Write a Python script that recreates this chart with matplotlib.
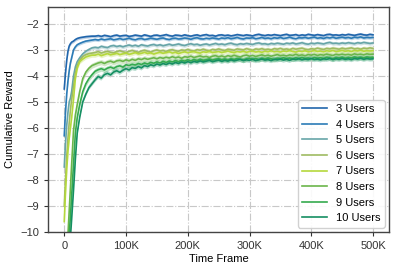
import matplotlib
matplotlib.use("Agg")
import matplotlib.pyplot as plt
from matplotlib.ticker import FuncFormatter

plt.rcParams["font.family"] = ["Liberation Sans", "DejaVu Sans"]

# time frame in thousands: dense at the start, then every 5K
steps = [0, 2, 4, 6, 8, 10, 12, 15, 18, 21, 25, 30, 35, 40, 45] + list(range(50, 501, 5))

labels = ["3 Users", "4 Users", "5 Users", "6 Users",
          "7 Users", "8 Users", "9 Users", "10 Users"]
colors = ["#2166ac", "#2b7bb6", "#67a5a8", "#9fbb62",
          "#b5d83c", "#6bb54a", "#35aa4e", "#158f62"]

users3 = [-4.5, -3.9, -3.4, -3.05, -2.85, -2.76, -2.7, -2.66, -2.6, -2.56, -2.53, -2.51, -2.49, -2.48, -2.47,
          -2.47, -2.45, -2.48, -2.44, -2.46, -2.49, -2.45, -2.43, -2.47, -2.45,
          -2.44, -2.48, -2.46, -2.43, -2.45, -2.47, -2.42, -2.45, -2.48, -2.44,
          -2.43, -2.46, -2.44, -2.41, -2.45, -2.47, -2.43, -2.44, -2.46, -2.42,
          -2.45, -2.47, -2.44, -2.42, -2.46, -2.43, -2.41, -2.45, -2.44, -2.47,
          -2.43, -2.42, -2.45, -2.43, -2.46, -2.44, -2.41, -2.43, -2.45, -2.42,
          -2.44, -2.46, -2.42, -2.40, -2.43, -2.45, -2.42, -2.44, -2.41, -2.43,
          -2.45, -2.42, -2.40, -2.44, -2.43, -2.41, -2.45, -2.42, -2.44, -2.40,
          -2.42, -2.44, -2.41, -2.43, -2.45, -2.41, -2.40, -2.43, -2.42, -2.44,
          -2.41, -2.43, -2.40, -2.42, -2.44, -2.41, -2.39, -2.42, -2.43, -2.40,
          -2.42]
users4 = [-6.3, -5.4, -4.7, -4.2, -3.8, -3.5, -3.3, -3.0, -2.88, -2.8, -2.75, -2.7, -2.66, -2.64, -2.62,
          -2.6, -2.62, -2.58, -2.61, -2.59, -2.57, -2.61, -2.59, -2.56, -2.6,
          -2.58, -2.55, -2.59, -2.61, -2.57, -2.56, -2.6, -2.58, -2.55, -2.57,
          -2.59, -2.56, -2.54, -2.58, -2.6, -2.56, -2.55, -2.58, -2.57, -2.54,
          -2.56, -2.59, -2.55, -2.53, -2.57, -2.58, -2.55, -2.57, -2.54, -2.56,
          -2.58, -2.54, -2.56, -2.53, -2.57, -2.55, -2.52, -2.56, -2.58, -2.54,
          -2.55, -2.53, -2.57, -2.55, -2.52, -2.56, -2.54, -2.57, -2.53, -2.55,
          -2.52, -2.56, -2.54, -2.51, -2.55, -2.57, -2.53, -2.54, -2.52, -2.55,
          -2.53, -2.51, -2.55, -2.53, -2.56, -2.52, -2.54, -2.51, -2.55, -2.53,
          -2.51, -2.54, -2.52, -2.55, -2.51, -2.53, -2.5, -2.54, -2.52, -2.53,
          -2.52]
users5 = [-7.5, -6.6, -5.9, -5.4, -5.0, -4.85, -4.6, -4.0, -3.65, -3.45, -3.3, -3.15, -3.05, -2.98, -2.92,
          -2.9, -2.92, -2.86, -2.89, -2.91, -2.85, -2.83, -2.87, -2.84, -2.88,
          -2.84, -2.81, -2.85, -2.82, -2.86, -2.8, -2.83, -2.85, -2.81, -2.79,
          -2.83, -2.8, -2.84, -2.81, -2.78, -2.82, -2.8, -2.77, -2.81, -2.83,
          -2.79, -2.76, -2.8, -2.78, -2.82, -2.79, -2.77, -2.81, -2.78, -2.75,
          -2.79, -2.77, -2.8, -2.76, -2.74, -2.78, -2.8, -2.76, -2.78, -2.75,
          -2.77, -2.79, -2.75, -2.73, -2.77, -2.76, -2.79, -2.75, -2.77, -2.74,
          -2.76, -2.78, -2.74, -2.76, -2.73, -2.77, -2.75, -2.72, -2.76, -2.78,
          -2.74, -2.76, -2.73, -2.75, -2.77, -2.73, -2.71, -2.75, -2.74, -2.76,
          -2.73, -2.75, -2.72, -2.74, -2.76, -2.72, -2.74, -2.71, -2.73, -2.75,
          -2.73]
users6 = [-9.0, -8.0, -7.1, -6.4, -5.8, -5.3, -4.9, -4.4, -3.9, -3.6, -3.4, -3.25, -3.18, -3.14, -3.12,
          -3.1, -3.06, -3.12, -3.08, -3.05, -3.09, -3.11, -3.06, -3.03, -3.07,
          -3.1, -3.05, -3.02, -3.06, -3.09, -3.04, -3.01, -3.05, -3.08, -3.03,
          -3.0, -3.04, -3.02, -3.06, -3.01, -2.99, -3.03, -3.05, -3.0, -3.02,
          -2.98, -3.02, -3.04, -2.99, -3.01, -2.97, -3.01, -3.03, -2.98, -3.0,
          -2.96, -3.0, -3.02, -2.97, -2.99, -3.01, -2.96, -2.98, -3.0, -2.95,
          -2.98, -3.01, -2.96, -2.98, -2.95, -2.99, -2.97, -3.0, -2.95, -2.97,
          -2.94, -2.98, -2.96, -2.99, -2.94, -2.97, -2.95, -2.93, -2.97, -2.99,
          -2.95, -2.97, -2.93, -2.96, -2.98, -2.94, -2.96, -2.93, -2.95, -2.97,
          -2.93, -2.96, -2.94, -2.92, -2.96, -2.94, -2.97, -2.93, -2.95, -2.92,
          -2.94]
users7 = [-9.6, -8.5, -7.6, -6.9, -6.4, -6.0, -5.6, -4.9, -4.1, -3.7, -3.45, -3.35, -3.27, -3.23, -3.2,
          -3.2, -3.16, -3.22, -3.18, -3.14, -3.19, -3.16, -3.13, -3.18, -3.15,
          -3.12, -3.17, -3.14, -3.1, -3.15, -3.13, -3.09, -3.14, -3.11, -3.16,
          -3.12, -3.09, -3.13, -3.1, -3.07, -3.12, -3.09, -3.14, -3.1, -3.07,
          -3.11, -3.08, -3.06, -3.1, -3.12, -3.07, -3.09, -3.05, -3.1, -3.08,
          -3.06, -3.1, -3.07, -3.04, -3.08, -3.1, -3.06, -3.08, -3.05, -3.09,
          -3.06, -3.04, -3.08, -3.06, -3.09, -3.05, -3.07, -3.03, -3.07, -3.05,
          -3.08, -3.04, -3.06, -3.02, -3.06, -3.08, -3.04, -3.06, -3.03, -3.07,
          -3.05, -3.02, -3.06, -3.04, -3.07, -3.03, -3.05, -3.02, -3.06, -3.04,
          -3.02, -3.05, -3.03, -3.06, -3.02, -3.04, -3.01, -3.05, -3.03, -3.04,
          -3.03]
users8 = [-12.0, -11.2, -10.6, -10.1, -9.2, -8.3, -7.4, -6.1, -5.5, -5.1, -4.6, -4.1, -3.85, -3.7, -3.6,
          -3.55, -3.5, -3.47, -3.52, -3.46, -3.43, -3.48, -3.42, -3.4, -3.44,
          -3.38, -3.42, -3.36, -3.4, -3.34, -3.37, -3.32, -3.36, -3.33, -3.3,
          -3.34, -3.29, -3.32, -3.28, -3.31, -3.26, -3.3, -3.27, -3.32, -3.26,
          -3.28, -3.24, -3.29, -3.26, -3.23, -3.27, -3.25, -3.29, -3.24, -3.22,
          -3.26, -3.23, -3.27, -3.22, -3.25, -3.21, -3.24, -3.27, -3.22, -3.2,
          -3.24, -3.21, -3.25, -3.22, -3.19, -3.23, -3.2, -3.24, -3.21, -3.18,
          -3.22, -3.2, -3.23, -3.19, -3.21, -3.17, -3.21, -3.19, -3.22, -3.18,
          -3.2, -3.17, -3.21, -3.18, -3.2, -3.16, -3.19, -3.21, -3.17, -3.19,
          -3.16, -3.19, -3.17, -3.2, -3.15, -3.18, -3.16, -3.19, -3.15, -3.17,
          -3.16]
users9 = [-13.0, -12.3, -11.5, -10.8, -10.1, -9.4, -8.6, -7.4, -6.2, -5.6, -5.1, -4.6, -4.3, -4.1, -3.95,
          -3.82, -3.76, -3.72, -3.77, -3.7, -3.66, -3.71, -3.64, -3.61, -3.66,
          -3.57, -3.6, -3.55, -3.58, -3.52, -3.56, -3.5, -3.54, -3.48, -3.51,
          -3.46, -3.5, -3.44, -3.48, -3.43, -3.46, -3.41, -3.45, -3.4, -3.43,
          -3.38, -3.42, -3.37, -3.41, -3.36, -3.4, -3.38, -3.35, -3.39, -3.36,
          -3.34, -3.38, -3.35, -3.39, -3.34, -3.37, -3.33, -3.36, -3.39, -3.34,
          -3.32, -3.36, -3.33, -3.37, -3.32, -3.35, -3.31, -3.34, -3.37, -3.32,
          -3.34, -3.3, -3.34, -3.31, -3.35, -3.3, -3.33, -3.29, -3.33, -3.31,
          -3.34, -3.29, -3.32, -3.3, -3.33, -3.28, -3.31, -3.34, -3.29, -3.31,
          -3.28, -3.32, -3.29, -3.31, -3.27, -3.3, -3.28, -3.31, -3.27, -3.29,
          -3.28]
users10 = [-14.0, -13.2, -12.4, -11.6, -10.9, -10.2, -9.5, -8.4, -7.2, -6.2, -5.6, -5.0, -4.7, -4.45, -4.3,
           -4.15, -4.02, -4.08, -3.95, -3.9, -3.96, -3.85, -3.8, -3.86, -3.78,
           -3.72, -3.77, -3.68, -3.71, -3.64, -3.69, -3.6, -3.64, -3.57, -3.61,
           -3.54, -3.58, -3.52, -3.56, -3.5, -3.54, -3.48, -3.52, -3.46, -3.5,
           -3.45, -3.49, -3.44, -3.47, -3.42, -3.46, -3.43, -3.4, -3.45, -3.42,
           -3.39, -3.44, -3.4, -3.43, -3.38, -3.42, -3.39, -3.36, -3.41, -3.38,
           -3.4, -3.36, -3.41, -3.38, -3.35, -3.39, -3.37, -3.41, -3.36, -3.38,
           -3.35, -3.39, -3.36, -3.4, -3.35, -3.37, -3.34, -3.38, -3.35, -3.37,
           -3.33, -3.37, -3.35, -3.38, -3.34, -3.36, -3.33, -3.37, -3.34, -3.36,
           -3.33, -3.36, -3.34, -3.37, -3.33, -3.35, -3.32, -3.36, -3.33, -3.35,
           -3.34]

series = [users3, users4, users5, users6, users7, users8, users9, users10]
spread = [0.06, 0.06, 0.07, 0.08, 0.08, 0.1, 0.1, 0.1]

fig = plt.figure(figsize=(3.95, 2.71), dpi=100)
ax = fig.add_axes([0.122, 0.144, 0.863, 0.83])

x = [s * 1000 for s in steps]
for vals, col, lab, sp in zip(series, colors, labels, spread):
    ax.fill_between(x, [v - sp for v in vals], [v + sp for v in vals],
                    color=col, alpha=0.3, linewidth=0)
    ax.plot(x, vals, color=col, lw=1.2, label=lab)

ax.set_xlim(-26000, 526000)
ax.set_ylim(-10, -1.35)
ax.set_xticks([0, 100000, 200000, 300000, 400000, 500000])
ax.set_yticks(range(-10, -1))
ax.xaxis.set_major_formatter(FuncFormatter(lambda v, p: "0" if v == 0 else f"{int(v/1000)}K"))
ax.yaxis.set_major_formatter(FuncFormatter(lambda v, p: f"\u2212{abs(int(v))}"))
ax.tick_params(labelsize=8, length=3, width=0.8, colors="#333333")
ax.grid(True, linestyle="-.", color="#c8c8c8", linewidth=0.8)
for sp_ in ax.spines.values():
    sp_.set_color("#444444")
    sp_.set_linewidth(1.0)
ax.set_xlabel("Time Frame", fontsize=8, labelpad=2)
ax.set_ylabel("Cumulative Reward", fontsize=8, labelpad=4)
ax.legend(loc="lower right", fontsize=8, handlelength=2.2, labelspacing=0.5,
          framealpha=0.9, edgecolor="#cccccc", borderaxespad=0.4)

fig.savefig("out.png", dpi=100)
